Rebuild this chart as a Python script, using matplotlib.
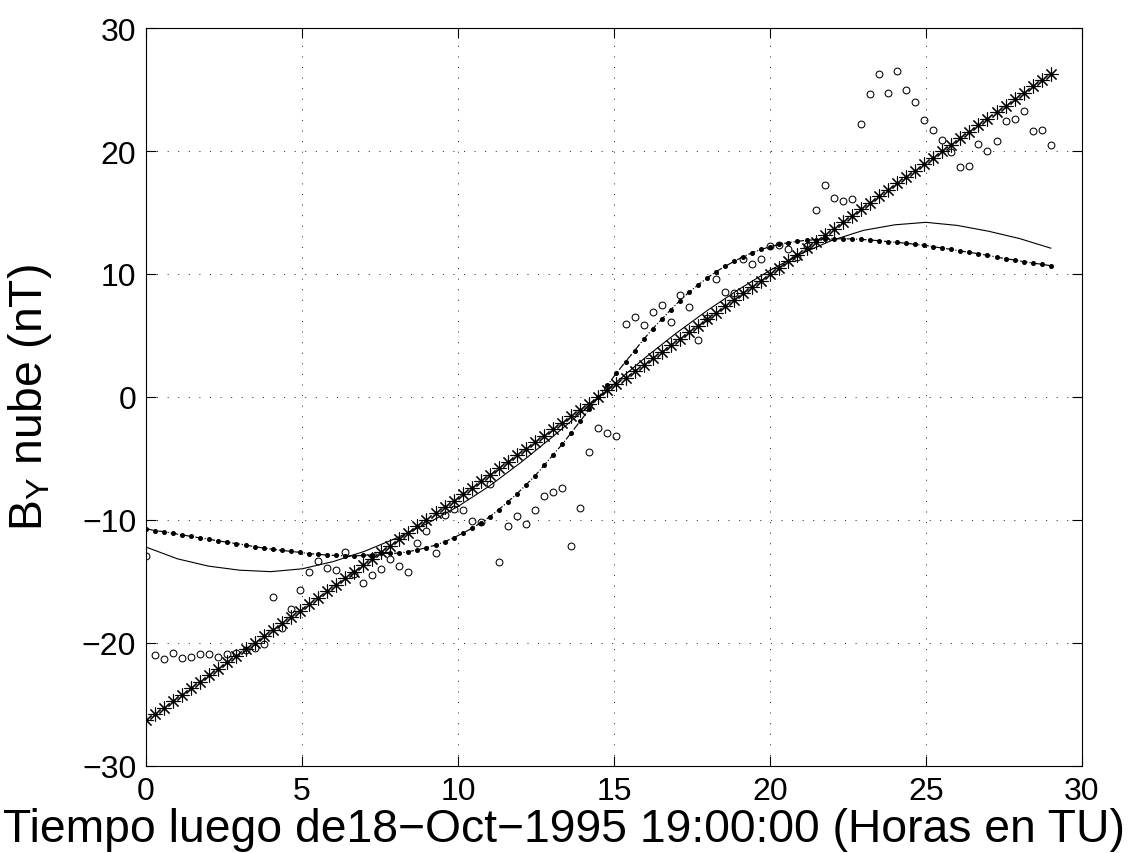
import numpy as np
import matplotlib
matplotlib.use("Agg")
import matplotlib.pyplot as plt

plt.rcParams['font.family'] = ['Liberation Sans', 'DejaVu Sans']
plt.rcParams['mathtext.default'] = 'regular'

# sample times (hours after 18-Oct-1995 19:00 UT), one every 0.29 h
t = np.linspace(0, 29, 101)

# observed B_Y (open circles)
by_obs = [
    -12.95, -21.0, -21.3, -20.8, -21.2, -21.1, -20.9, -20.9, -21.15, -20.9,
    -20.8, -20.6, -20.4, -20.1, -16.3, -18.75, -17.2, -15.7, -14.25, -13.3,
    -13.9, -14.1, -12.6, -14.4, -15.15, -14.5, -14.0, -13.2, -13.7, -14.2,
    -11.9, -10.9, -12.7, -9.6, -9.1, -9.2, -10.1, -10.2, -7.1, -13.45,
    -10.5, -9.65, -10.35, -9.2, -8.05, -7.7, -7.4, -12.1, -9.0, -4.5,
    -2.5, -2.95, -3.2, 5.93, 6.5, 5.85, 6.9, 7.45, 6.07, 8.3,
    7.3, 4.6, 6.4, 9.6, 8.5, 8.45, 11.2, 10.8, 11.2, 12.25,
    12.36, 12.0, 11.4, 12.25, 15.2, 17.2, 16.2, 15.96, 16.1, 22.2,
    24.66, 26.3, 24.74, 26.5, 24.96, 24.0, 22.5, 21.7, 20.87, 19.9,
    18.7, 18.8, 20.6, 20.0, 20.8, 22.4, 22.6, 23.25, 21.6, 21.7,
    20.5,
]

# model with dots joined by a dash-dot line
by_model = [
    -10.7, -10.87, -10.95, -11.08, -11.22, -11.33, -11.46, -11.57, -11.7, -11.81,
    -11.92, -12.03, -12.17, -12.28, -12.38, -12.47, -12.55, -12.63, -12.74, -12.78,
    -12.86, -12.88, -12.91, -12.92, -12.88, -12.81, -12.7, -12.72, -12.69, -12.58,
    -12.42, -12.25, -12.04, -11.77, -11.44, -11.08, -10.68, -10.23, -9.73, -9.15,
    -8.52, -7.87, -7.14, -6.4, -5.56, -4.69, -3.85, -2.9, -1.95, -1.0,
    -0.03, 0.95, 1.95, 2.87, 3.77, 4.69, 5.55, 6.32, 7.1, 7.83,
    8.51, 9.1, 9.67, 10.19, 10.62, 11.03, 11.41, 11.73, 12.0, 12.22,
    12.41, 12.55, 12.66, 12.74, 12.79, 12.85, 12.85, 12.87, 12.85, 12.82,
    12.76, 12.71, 12.63, 12.57, 12.5, 12.41, 12.33, 12.22, 12.11, 12.0,
    11.87, 11.76, 11.65, 11.52, 11.38, 11.24, 11.14, 11.0, 10.89, 10.79,
    10.67,
]

# linear trend (asterisks)
by_lin = [
    -26.30, -25.77, -25.25, -24.72, -24.20, -23.67, -23.14, -22.62, -22.09, -21.57,
    -21.04, -20.51, -19.99, -19.46, -18.94, -18.41, -17.88, -17.36, -16.83, -16.31,
    -15.78, -15.25, -14.73, -14.20, -13.68, -13.15, -12.62, -12.10, -11.57, -11.05,
    -10.52, -9.99, -9.47, -8.94, -8.42, -7.89, -7.36, -6.84, -6.31, -5.79,
    -5.26, -4.73, -4.21, -3.68, -3.16, -2.63, -2.10, -1.58, -1.05, -0.53,
    0.00, 0.53, 1.05, 1.58, 2.10, 2.63, 3.16, 3.68, 4.21, 4.73,
    5.26, 5.79, 6.31, 6.84, 7.36, 7.89, 8.42, 8.94, 9.47, 9.99,
    10.52, 11.05, 11.57, 12.10, 12.62, 13.15, 13.68, 14.20, 14.73, 15.25,
    15.78, 16.31, 16.83, 17.36, 17.88, 18.41, 18.94, 19.46, 19.99, 20.51,
    21.04, 21.57, 22.09, 22.62, 23.14, 23.67, 24.20, 24.72, 25.25, 25.77,
    26.30,
]

# smooth fit (solid line), hourly
t_fit = np.arange(0, 30)
by_fit = [
    -12.2, -13.15, -13.75, -14.08, -14.2, -13.97, -13.38, -12.55, -11.5, -10.3,
    -8.9, -7.25, -5.35, -3.3, -1.15, 1.05, 3.2, 5.2, 7.05, 8.75,
    10.3, 11.65, 12.75, 13.55, 14.0, 14.2, 13.95, 13.48, 12.88, 12.1,
]

fig = plt.figure(figsize=(11.28, 8.54), dpi=100)
ax = fig.add_axes([146 / 1128, 1 - 767 / 854, 936 / 1128, 738 / 854])

ax.plot(t, by_obs, linestyle='none', marker='o', ms=4.9, mfc='none',
        mec='black', mew=0.75)
ax.plot(t_fit, by_fit, color='black', lw=0.8)
ax.plot(t, by_model, linestyle='-.', color='black', lw=0.85,
        marker='o', ms=2.6, mfc='black', mec='black')
ax.plot(t, by_lin, linestyle=':', color='black', lw=0.6,
        marker=(8, 2, 0), ms=10, mec='black', mew=0.8)

ax.set_xlim(0, 30)
ax.set_ylim(-30, 30)
ax.set_xticks(np.arange(0, 31, 5))
ax.set_yticks(np.arange(-30, 31, 10))

ax.grid(True, color='black', lw=0.6, linestyle=(0, (1.2, 11.5)))
ax.set_axisbelow(False)
for s in ax.spines.values():
    s.set_linewidth(0.8)

ax.tick_params(direction='in', length=7, width=0.8, top=True, right=True,
               labelsize=23, pad=7)

ax.set_xlabel('Tiempo luego de18\u2212Oct\u22121995 19:00:00 (Horas en TU)',
              fontsize=33.3, va='center')
ax.xaxis.set_label_coords(0.447, -0.0854)
ax.set_ylabel('B$_Y$ nube (nT)', fontsize=33.3, va='center')
ax.yaxis.set_label_coords(-0.124, 0.5)

fig.savefig('out.png', dpi=100)
